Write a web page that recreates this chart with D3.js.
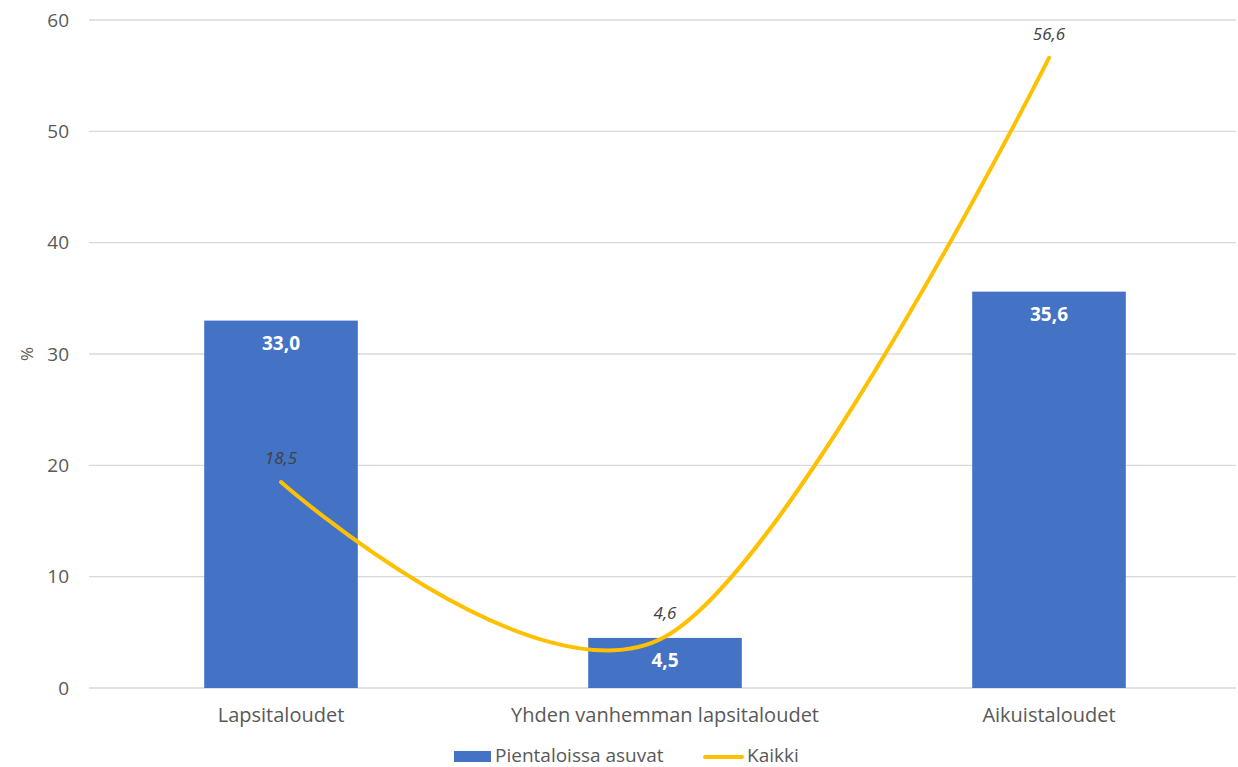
<!DOCTYPE html>
<html>
<head>
<meta charset="utf-8">
<script src="https://cdn.jsdelivr.net/npm/d3@7"></script>
<style>
  html, body { margin: 0; padding: 0; background: #fff; }
  svg { display: block; font-family: "Open Sans", "Noto Sans", sans-serif; }
</style>
</head>
<body>
<svg id="chart" width="1238" height="767"></svg>
<script>
// Household types
const categories = ["Lapsitaloudet", "Yhden vanhemman lapsitaloudet", "Aikuistaloudet"];
// Share living in detached/small houses (bars)
const pientaloValues = [33.0, 4.5, 35.6];
// All households (smoothed line)
const kaikkiValues = [18.5, 4.6, 56.6];
const yTicks = [0, 10, 20, 30, 40, 50, 60];
const seriesNames = ["Pientaloissa asuvat", "Kaikki"];

const fmt = v => v.toFixed(1).replace(".", ",");

const svg = d3.select("#chart");
const plot = { left: 89, right: 1241, top: 20, bottom: 688 };

const x = d3.scaleBand().domain(categories).range([plot.left, plot.right]).paddingInner(0).paddingOuter(0);
const y = d3.scaleLinear().domain([0, 60]).range([plot.bottom, plot.top]);
const barW = x.bandwidth() * 0.4;
const cx = c => x(c) + x.bandwidth() / 2;

// Gridlines
svg.append("g").selectAll("line").data(yTicks).join("line")
  .attr("x1", plot.left).attr("x2", 1236)
  .attr("y1", d => y(d)).attr("y2", d => y(d))
  .attr("stroke", "#d9d9d9").attr("stroke-width", 1.3);

// Y tick labels
svg.append("g").selectAll("text").data(yTicks).join("text")
  .attr("x", 69).attr("y", d => y(d)).attr("dy", "0.35em")
  .attr("text-anchor", "end").attr("font-size", 19).attr("fill", "#595959")
  .text(d => d);

// Y axis title
svg.append("text")
  .attr("transform", `translate(33,${(plot.top + plot.bottom) / 2}) rotate(-90)`)
  .attr("text-anchor", "middle").attr("font-size", 17).attr("fill", "#595959")
  .text("%");

// Bars
svg.append("g").selectAll("rect").data(categories).join("rect")
  .attr("x", d => cx(d) - barW / 2)
  .attr("width", barW)
  .attr("y", (d, i) => y(pientaloValues[i]))
  .attr("height", (d, i) => y(0) - y(pientaloValues[i]))
  .attr("fill", "#4472C4");

// Bar labels
svg.append("g").selectAll("text").data(categories).join("text")
  .attr("x", d => cx(d))
  .attr("y", (d, i) => y(pientaloValues[i]) + 29)
  .attr("text-anchor", "middle").attr("font-size", 19).attr("font-weight", "bold")
  .attr("fill", "#fff")
  .text((d, i) => fmt(pientaloValues[i]));

// Smoothed line
const pts = categories.map((c, i) => [cx(c), y(kaikkiValues[i])]);
svg.append("path")
  .attr("d", d3.line().curve(d3.curveCardinal.tension(0))(pts))
  .attr("fill", "none").attr("stroke", "#FFC000").attr("stroke-width", 4)
  .attr("stroke-linecap", "round");

// Line labels
svg.append("g").selectAll("text").data(categories).join("text")
  .attr("x", d => cx(d))
  .attr("y", (d, i) => y(kaikkiValues[i]) - 18)
  .attr("text-anchor", "middle").attr("font-size", 17).attr("font-style", "italic")
  .attr("fill", "#404040")
  .text((d, i) => fmt(kaikkiValues[i]));

// Category labels
svg.append("g").selectAll("text").data(categories).join("text")
  .attr("x", d => cx(d)).attr("y", 722)
  .attr("text-anchor", "middle").attr("font-size", 20).attr("fill", "#595959")
  .text(d => d);

// Legend
const lg = svg.append("g");
lg.append("rect").attr("x", 454).attr("y", 751).attr("width", 37).attr("height", 11).attr("fill", "#4472C4");
lg.append("text").attr("x", 495).attr("y", 762).attr("font-size", 19).attr("fill", "#595959").text(seriesNames[0]);
lg.append("line").attr("x1", 705).attr("x2", 742).attr("y1", 757).attr("y2", 757)
  .attr("stroke", "#FFC000").attr("stroke-width", 4).attr("stroke-linecap", "round");
lg.append("text").attr("x", 747).attr("y", 762).attr("font-size", 19).attr("fill", "#595959").text(seriesNames[1]);
</script>
</body>
</html>
